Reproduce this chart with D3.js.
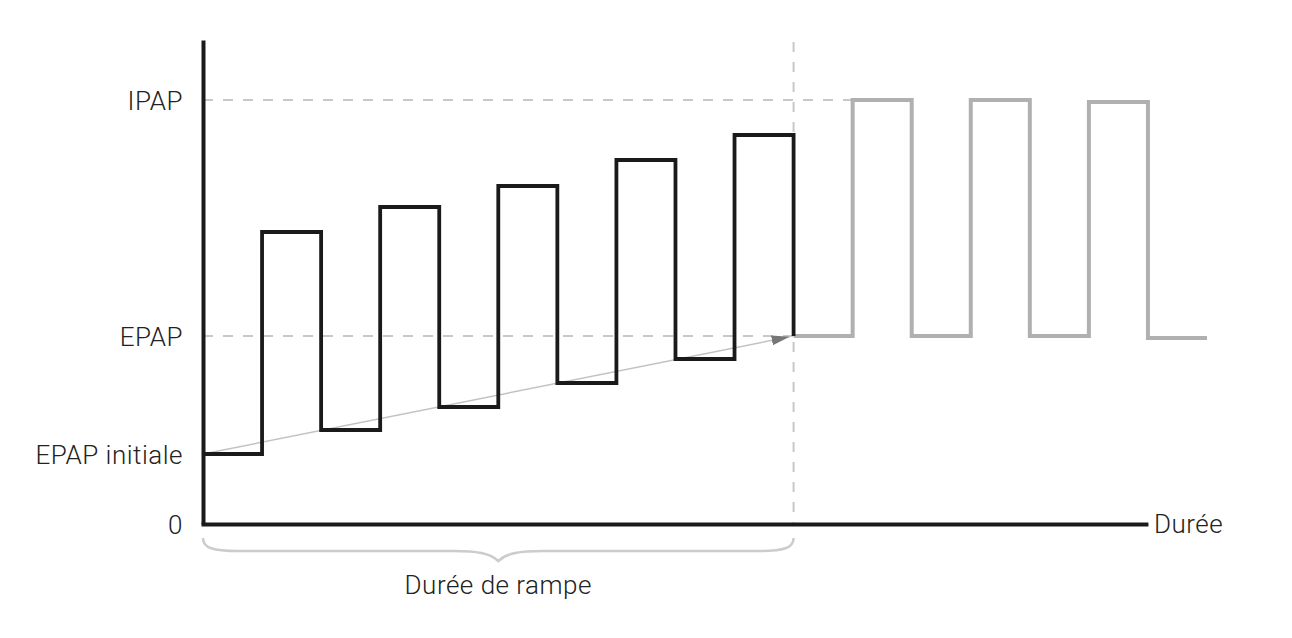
<!DOCTYPE html>
<html>
<head>
<meta charset="utf-8">
<script src="https://cdn.jsdelivr.net/npm/d3@7"></script>
<style>
    body { margin: 0; background: #fff; }
    text { font-family: Roboto, "Liberation Sans", sans-serif; font-weight: 300; fill: #222; letter-spacing: 0.5px; }
</style>
</head>
<body>
<div id="chart"></div>
<script>
// time in half-cycles, pressure in arbitrary units
const rampTimes = [0, 1, 2, 3, 4, 5, 6, 7, 8, 9, 10];
const rampValues = [3.5, 14.6, 4.7, 15.85, 5.85, 16.9, 7.05, 18.2, 8.25, 19.45, 9.4];
const steadyTimes = [10, 11, 12, 13, 14, 15, 16, 17];
const steadyValues = [9.4, 21.2, 9.4, 21.2, 9.4, 21.1, 9.3, 9.3];

const yTickValues = [0, 3.5, 9.4, 21.2];
const yTickLabels = ['0', 'EPAP initiale', 'EPAP', 'IPAP'];
const xLabel = 'Durée';
const rampLabel = 'Durée de rampe';

const rampEnd = 10;
const ipapEnd = 11;
const axisEnd = 16;
const yMax = 24.2;

const width = 1292;
const height = 638;
const margin = { top: 40, right: 85, bottom: 114, left: 203 };
const fontSize = 26;

const svg = d3.select('#chart')
    .append('svg')
    .attr('width', width)
    .attr('height', height);

const x = d3.scaleLinear()
    .domain([0, 17])
    .range([margin.left, width - margin.right]);

const y = d3.scaleLinear()
    .domain([0, yMax])
    .range([height - margin.bottom, margin.top]);

svg.append('defs').append('marker')
    .attr('id', 'arrow')
    .attr('markerUnits', 'userSpaceOnUse')
    .attr('markerWidth', 18)
    .attr('markerHeight', 10)
    .attr('refX', 18)
    .attr('refY', 5)
    .attr('orient', 'auto')
    .append('path')
    .attr('d', 'M0,0 L18,5 L0,10 Z')
    .attr('fill', '#777');

// dashed guides
const guide = (x1, y1, x2, y2) => svg.append('line')
    .attr('x1', x1).attr('y1', y1).attr('x2', x2).attr('y2', y2)
    .attr('stroke', '#c8c8c8')
    .attr('stroke-width', 2)
    .attr('stroke-dasharray', '10,10');

guide(x(0), y(21.2), x(ipapEnd), y(21.2));
guide(x(0), y(9.4), x(rampEnd), y(9.4));
guide(x(rampEnd), y(24.1), x(rampEnd), y(0));

// ramp arrow
svg.append('line')
    .attr('x1', x(0))
    .attr('y1', y(rampValues[0]))
    .attr('x2', x(rampEnd) - 4)
    .attr('y2', y(rampValues[rampValues.length - 1]) + 0.8)
    .attr('stroke', '#c2c2c2')
    .attr('stroke-width', 1.5)
    .attr('marker-end', 'url(#arrow)');

const line = d3.line()
    .x(d => x(d[0]))
    .y(d => y(d[1]))
    .curve(d3.curveStepAfter);

svg.append('path')
    .datum(steadyTimes.map((t, i) => [t, steadyValues[i]]))
    .attr('d', line)
    .attr('fill', 'none')
    .attr('stroke', '#b0b0b0')
    .attr('stroke-width', 4);

svg.append('path')
    .datum(rampTimes.map((t, i) => [t, rampValues[i]]))
    .attr('d', line)
    .attr('fill', 'none')
    .attr('stroke', '#1a1a1a')
    .attr('stroke-width', 3.8);

// axes
const yAxis = svg.append('g')
    .attr('transform', `translate(${x(0)},0)`)
    .call(d3.axisLeft(y)
        .tickValues(yTickValues)
        .tickFormat((d, i) => yTickLabels[i])
        .tickSize(0)
        .tickPadding(20));

yAxis.select('.domain')
    .attr('stroke', '#1a1a1a')
    .attr('stroke-width', 4);

yAxis.selectAll('text')
    .attr('font-family', null)
    .attr('font-size', fontSize)
    .attr('fill', '#222')
    .attr('dy', '0.35em');

const xAxisScale = d3.scaleLinear()
    .domain([0, axisEnd])
    .range([x(0) - 2, x(axisEnd)]);

const xAxis = svg.append('g')
    .attr('transform', `translate(0,${y(0)})`)
    .call(d3.axisBottom(xAxisScale).tickValues([]).tickSize(0));

xAxis.select('.domain')
    .attr('stroke', '#1a1a1a')
    .attr('stroke-width', 4);

svg.append('text')
    .attr('x', x(axisEnd) + 6)
    .attr('y', y(0))
    .attr('dy', '0.35em')
    .attr('font-size', fontSize)
    .text(xLabel);

// brace under the ramp
const b0 = x(0), b1 = x(rampEnd), mid = (b0 + b1) / 2;
const by = y(0) + 14, bb = y(0) + 27, tip = y(0) + 37;
svg.append('path')
    .attr('d', `M${b0},${by} C${b0},${bb - 3} ${b0 + 10},${bb} ${b0 + 35},${bb}
        L${mid - 45},${bb} C${mid - 22},${bb} ${mid - 8},${bb + 2} ${mid},${tip}
        C${mid + 8},${bb + 2} ${mid + 22},${bb} ${mid + 45},${bb}
        L${b1 - 35},${bb} C${b1 - 10},${bb} ${b1},${bb - 3} ${b1},${by}`)
    .attr('fill', 'none')
    .attr('stroke', '#cccccc')
    .attr('stroke-width', 2.5);

svg.append('text')
    .attr('x', mid)
    .attr('y', y(0) + 70)
    .attr('text-anchor', 'middle')
    .attr('font-size', fontSize)
    .text(rampLabel);
</script>
</body>
</html>
